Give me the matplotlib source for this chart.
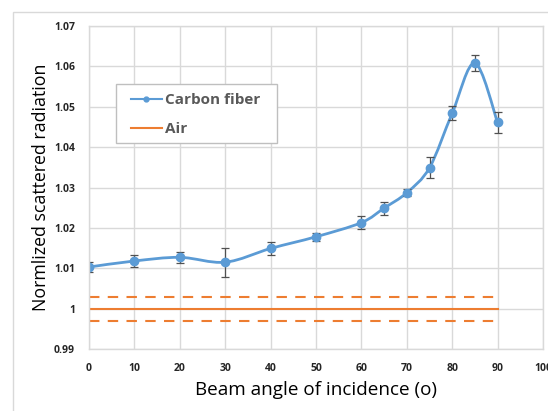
import matplotlib
matplotlib.use("Agg")
import matplotlib.pyplot as plt
import numpy as np
from matplotlib.path import Path
from matplotlib.patches import PathPatch, Rectangle
from matplotlib.lines import Line2D

# ---- data ----
angles = [0, 10, 20, 30, 40, 50, 60, 65, 70, 75, 80, 85, 90]
carbon = [1.0103, 1.0118, 1.0127, 1.0115, 1.0149, 1.0178, 1.0213, 1.0249, 1.0287, 1.0349, 1.0484, 1.0608, 1.0461]
carbon_err = [0.0012, 0.0016, 0.0013, 0.0036, 0.0016, 0.0010, 0.0017, 0.0016, 0.0009, 0.0026, 0.0017, 0.0019, 0.0026]
air_x = [0, 90]
air_level = [1.0, 1.0]
air_upper = [1.003, 1.003]
air_lower = [0.997, 0.997]
xticks = [0, 10, 20, 30, 40, 50, 60, 70, 80, 90, 100]
yticks = [0.99, 1.0, 1.01, 1.02, 1.03, 1.04, 1.05, 1.06, 1.07]
ytick_labels = ["0.99", "1", "1.01", "1.02", "1.03", "1.04", "1.05", "1.06", "1.07"]

BLUE = "#5B9BD5"
ORANGE = "#ED7D31"
GRID = "#D9D9D9"
TXT = "#595959"

plt.rcParams['font.family'] = ['Open Sans', 'DejaVu Sans']

W, H = 548, 411
fig = plt.figure(figsize=(W / 100, H / 100), dpi=100)
# outer chart frame
fig.patches.append(Rectangle((13 / W, -0.1), 1.2, 1 - 12 / H + 0.1, transform=fig.transFigure,
                             fill=False, edgecolor=GRID, linewidth=1.0))

ax = fig.add_axes([89 / W, 1 - 349 / H, (543 - 89) / W, (349 - 26) / H])
ax.set_xlim(0, 100)
ax.set_ylim(0.99, 1.07)
ax.set_xticks(xticks)
ax.set_yticks(yticks)
ax.set_yticklabels(ytick_labels)
ax.grid(True, color=GRID, linewidth=1.0)
ax.set_axisbelow(True)
for s in ax.spines.values():
    s.set_color(GRID)
    s.set_linewidth(1.0)
ax.tick_params(length=0, pad=10, labelsize=7.5, labelcolor="#262626")
for lab in ax.get_xticklabels() + ax.get_yticklabels():
    lab.set_fontweight("bold")

# Air lines
ax.plot(air_x, air_level, color=ORANGE, linewidth=1.5)
ax.plot(air_x, air_upper, color=ORANGE, linewidth=1.5, dashes=(5, 4))
ax.plot(air_x, air_lower, color=ORANGE, linewidth=1.5, dashes=(5, 4))

# smoothed line (Excel-like Catmull-Rom Bezier) through data points
x = np.array(angles, float)
y = np.array(carbon, float)
pts = ax.transData.transform(np.column_stack([x, y]))
verts = [pts[0]]
codes = [Path.MOVETO]
n = len(pts)
for i in range(n - 1):
    p0 = pts[i - 1] if i > 0 else pts[i]
    p1 = pts[i]
    p2 = pts[i + 1]
    p3 = pts[i + 2] if i + 2 < n else pts[i + 1]
    c1 = p1 + (p2 - p0) / 6.0
    c2 = p2 - (p3 - p1) / 6.0
    verts += [c1, c2, p2]
    codes += [Path.CURVE4] * 3
verts_data = ax.transData.inverted().transform(np.array(verts))
patch = PathPatch(Path(verts_data, codes), facecolor="none", edgecolor=BLUE, linewidth=2.0,
                  transform=ax.transData)
ax.add_patch(patch)

ax.errorbar(angles, carbon, yerr=carbon_err, fmt="none", ecolor="#505050", elinewidth=0.9,
            capsize=3, capthick=0.9)
ax.plot(angles, carbon, linestyle="none", marker="o", markersize=6, color=BLUE)

ax.set_xlabel("Beam angle of incidence (o)", fontsize=13.6, color="black", labelpad=5)
ax.set_ylabel("Normlized scattered radiation", fontsize=12.8, color="black", labelpad=3)

# legend frame drawn separately for exact placement
fig.patches.append(Rectangle((116 / W, 1 - 143 / H), (277 - 116) / W, (143 - 84) / H,
                             transform=fig.transFigure, facecolor="white",
                             edgecolor="#BFBFBF", linewidth=1.0, zorder=5))
handles = [Line2D([0], [0], color=BLUE, linewidth=1.5, marker="o", markersize=3.5),
           Line2D([0], [0], color=ORANGE, linewidth=1.5)]
leg = fig.legend(handles, ["Carbon fiber", "Air"], loc="upper left",
                 bbox_to_anchor=(131 / W, 1 - 93 / H), bbox_transform=fig.transFigure,
                 frameon=False, prop={"weight": "bold", "size": 11},
                 handlelength=2.0, handletextpad=0.25, labelspacing=0.98, borderpad=0,
                 borderaxespad=0)
leg.set_zorder(6)
for t in leg.get_texts():
    t.set_color(TXT)

fig.savefig("out.png", dpi=100)
